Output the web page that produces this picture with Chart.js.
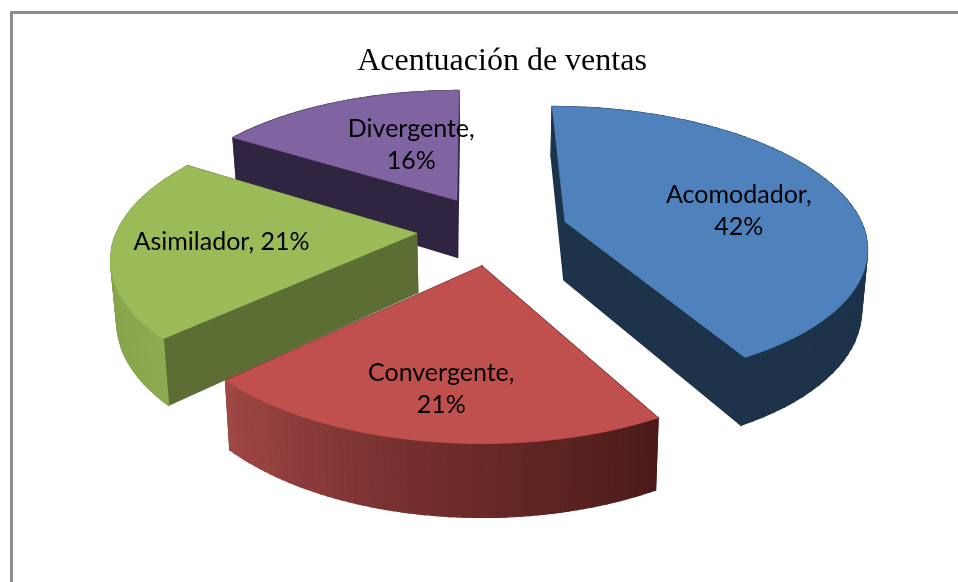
<!DOCTYPE html>
<html><head><meta charset="utf-8">
<script src="https://cdn.jsdelivr.net/npm/chart.js@4"></script>
<style>html,body{margin:0;padding:0;background:#fff;overflow:hidden}
#wrap{position:absolute;left:0;top:0;width:958px;height:582px;overflow:hidden}
#frame{position:absolute;left:10px;top:11px;width:960px;height:600px;border:solid #8c8c8c;border-width:3px 0 0 3px;box-sizing:border-box}
canvas{position:absolute;left:0;top:0}</style></head>
<body><div id="wrap"><div id="frame"></div><canvas id="c" width="958" height="582"></canvas></div>
<script>
const categories = ['Acomodador', 'Convergente', 'Asimilador', 'Divergente'];
const shares = [42, 21, 21, 16];
const topColors = ['#4f81bd', '#bf504d', '#9bbb59', '#8064a2'];
const chartTitle = 'Acentuación de ventas';

// Camera that projects the library's arcs into the tilted 3-D view
const camera = { cx: 493.5, cy: 230, scale: 299, squash: 0.455, persp: 0.16, depth: 59, skew: 3, taper: 0.016 };
const explode = [0.25, 0.258, 0.258, 0.258];
const wallStops = [
  [[0, '#1d3349'], [1, '#1d3349']],
  [[0, '#4a1b19'], [0.5, '#722e2c'], [1, '#a04846']],
  [[0, '#8dab50'], [0.5, '#84a04b'], [1, '#84a04b']],
  [[0, '#302541'], [1, '#302541']]
];
const radialColors = ['#1d3349', '#5a1f1d', '#5d6e34', '#302541'];
const labelLines = [['Acomodador,', '42%'], ['Convergente,', '21%'], ['Asimilador, 21%'], ['Divergente,', '16%']];
const labelRadius = [0.603, 0.737, 0.644, 0.5];
const labelTurn = [7, 0, 0, 8.5];

function project(X, Y, Z) {
  const w = 1 + camera.persp * Y;
  const x = camera.scale * X / w * (1 - camera.taper * Z);
  return [camera.cx + x - camera.skew * Y,
          camera.cy - camera.scale * camera.squash * Y / w + camera.depth * Z / w];
}
function hexMix(a, b, t) {
  const p = h => [1, 3, 5].map(i => parseInt(h.substr(i, 2), 16));
  const A = p(a), B = p(b);
  return 'rgb(' + A.map((v, i) => Math.round(v + (B[i] - v) * t)).join(',') + ')';
}
function stopColor(stops, t) {
  for (let i = 1; i < stops.length; i++) {
    if (t <= stops[i][0]) {
      return hexMix(stops[i - 1][1], stops[i][1], (t - stops[i - 1][0]) / (stops[i][0] - stops[i - 1][0]));
    }
  }
  return stops[stops.length - 1][1];
}
function poly(ctx, pts, fill, lw) {
  ctx.beginPath();
  pts.forEach((p, i) => i ? ctx.lineTo(p[0], p[1]) : ctx.moveTo(p[0], p[1]));
  ctx.closePath();
  ctx.fillStyle = fill; ctx.strokeStyle = fill; ctx.lineWidth = lw;
  ctx.fill(); ctx.stroke();
}
const pie3d = {
  id: 'pie3d',
  beforeDatasetsDraw(chart) {
    const ctx = chart.ctx;
    const arcs = chart.getDatasetMeta(0).data;
    const slices = arcs.map((a, i) => {
      const mid = (a.startAngle + a.endAngle) / 2;
      const ex = explode[i];
      return { i, a0: a.startAngle, a1: a.endAngle, mid,
        ox: ex * Math.cos(mid), oy: -ex * Math.sin(mid) };
    });
    const pt = (s, ang, r, z) => project(s.ox + r * Math.cos(ang), s.oy - r * Math.sin(ang), z);
    const order = slices.slice().sort((p, q) => q.oy - p.oy);
    order.forEach(s => {
      const N = 60, walls = [];
      for (let k = 0; k < N; k++) {
        const t0 = k / N, t1 = (k + 1) / N;
        const b0 = s.a0 + (s.a1 - s.a0) * t0, b1 = s.a0 + (s.a1 - s.a0) * t1;
        walls.push({ y: -Math.sin((b0 + b1) / 2) + s.oy, pts: [pt(s, b0, 1, 0), pt(s, b1, 1, 0), pt(s, b1, 1, 1), pt(s, b0, 1, 1)], fill: stopColor(wallStops[s.i], (t0 + t1) / 2) });
      }
      [s.a0, s.a1].forEach(b => {
        walls.push({ y: -0.5 * Math.sin(b) + s.oy, pts: [pt(s, b, 0, 0), pt(s, b, 1, 0), pt(s, b, 1, 1), pt(s, b, 0, 1)], fill: radialColors[s.i] });
      });
      walls.sort((p, q) => q.y - p.y).forEach(w => poly(ctx, w.pts, w.fill, 1.4));
      const top = [pt(s, 0, 0, 0)];
      for (let k = 0; k <= 120; k++) top.push(pt(s, s.a0 + (s.a1 - s.a0) * k / 120, 1, 0));
      poly(ctx, top, topColors[s.i], 0.7);
    });
    ctx.fillStyle = '#000';
    ctx.font = '25px Lato';
    ctx.textAlign = 'center';
    ctx.textBaseline = 'middle';
    slices.forEach(s => {
      const p = pt(s, s.mid + labelTurn[s.i] * Math.PI / 180, labelRadius[s.i], 0);
      labelLines[s.i].forEach((l, j, all) => ctx.fillText(l, p[0], p[1] + (j - (all.length - 1) / 2) * 32));
    });
    return false;
  }
};
new Chart(document.getElementById('c'), {
  type: 'pie',
  data: { labels: categories, datasets: [{ data: shares, backgroundColor: topColors, borderWidth: 0 }] },
  options: {
    responsive: false, animation: false,
    layout: { padding: { left: 46 } },
    plugins: {
      legend: { display: false }, tooltip: { enabled: false },
      title: { display: true, text: chartTitle, color: '#000', font: { family: 'Liberation Serif', size: 32, weight: 'normal' }, padding: { top: 42, bottom: 0 } }
    }
  },
  plugins: [pie3d]
});
</script></body></html>
